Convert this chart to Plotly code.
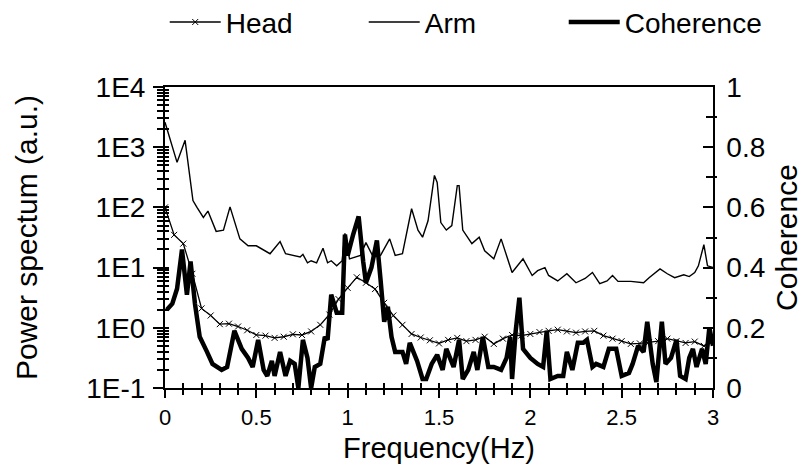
import plotly.graph_objects as go

# ---------------- data ----------------
head_freq = [i * 0.05 for i in range(61)]
head_power = [100, 35, 25, 7.9, 2.1, 1.6, 1.15, 1.17, 1.05, 0.91,
              0.76, 0.74, 0.68, 0.71, 0.78, 0.76, 0.87, 1.12, 1.66, 3.0,
              4.6, 6.9, 5.6, 4.4, 2.6, 1.6, 1.12, 0.79, 0.69, 0.62,
              0.55, 0.63, 0.68, 0.6, 0.63, 0.71, 0.54, 0.66, 0.76, 0.74,
              0.79, 0.85, 0.89, 0.93, 0.87, 0.83, 0.87, 0.89, 0.74, 0.66,
              0.6, 0.54, 0.55, 0.58, 0.6, 0.66, 0.6, 0.56, 0.59, 0.5, 0.6]

arm_freq = [0.0, 0.066, 0.11, 0.137, 0.153, 0.175, 0.21, 0.235, 0.28, 0.32,
            0.356, 0.41, 0.455, 0.5, 0.575, 0.63, 0.66, 0.74, 0.755, 0.78,
            0.8, 0.83, 0.865, 0.89, 0.91, 0.94, 0.97, 0.985, 1.01, 1.07,
            1.1, 1.14, 1.18, 1.23, 1.26, 1.30, 1.35, 1.385, 1.41, 1.44,
            1.475, 1.49, 1.51, 1.54, 1.57, 1.6, 1.61, 1.63, 1.68, 1.72,
            1.75, 1.8, 1.84, 1.9, 1.96, 2.01, 2.04, 2.08, 2.1, 2.15,
            2.2, 2.25, 2.3, 2.34, 2.38, 2.42, 2.45, 2.48, 2.55, 2.62,
            2.65, 2.71, 2.75, 2.79, 2.84, 2.87, 2.9, 2.92, 2.95, 2.97, 3.0]
arm_power = [2600, 560, 1300, 320, 130, 100, 68, 87, 40, 42,
             102, 30, 23, 23, 17, 27, 17, 15, 16.6, 12,
             13, 12, 21, 12, 13, 10.7, 13, 37, 14, 16,
             26, 15, 16, 30, 16, 17, 95, 42, 32, 60,
             340, 260, 56, 42, 50, 230, 230, 42, 25, 32,
             19, 14, 30, 8.3, 14, 7.4, 8.9, 10, 7.4, 6.0,
             7.9, 5.6, 6.6, 8.3, 5.4, 6.0, 7.4, 5.9, 5.9, 5.6,
             6.8, 9.5, 7.9, 6.8, 7.6, 7.1, 8.3, 10.7, 24, 10.7, 10]

coh_freq = [0.01, 0.04, 0.066, 0.093, 0.12, 0.14, 0.164, 0.19, 0.23, 0.26,
            0.31, 0.34, 0.38, 0.42, 0.455, 0.48, 0.51, 0.54, 0.56, 0.585,
            0.60, 0.63, 0.66, 0.685, 0.71, 0.73, 0.755, 0.78, 0.80, 0.82,
            0.85, 0.875, 0.89, 0.91, 0.94, 0.97, 0.985, 1.0, 1.03, 1.06,
            1.085, 1.10, 1.13, 1.16, 1.18, 1.20, 1.22, 1.24, 1.26, 1.30,
            1.32, 1.34, 1.38, 1.41, 1.43, 1.46, 1.49, 1.52, 1.54, 1.58,
            1.61, 1.63, 1.66, 1.69, 1.71, 1.74, 1.77, 1.80, 1.84, 1.87,
            1.89, 1.90, 1.92, 1.94, 1.96, 2.0, 2.04, 2.07, 2.09, 2.11,
            2.15, 2.18, 2.2, 2.23, 2.26, 2.29, 2.31, 2.34, 2.36, 2.4,
            2.43, 2.47, 2.5, 2.54, 2.56, 2.59, 2.62, 2.64, 2.67, 2.69,
            2.72, 2.74, 2.77, 2.8, 2.82, 2.85, 2.87, 2.89, 2.91, 2.94,
            2.96, 2.98, 3.0]
coh_value = [0.26, 0.28, 0.33, 0.46, 0.31, 0.42, 0.28, 0.17, 0.12, 0.08,
             0.06, 0.07, 0.19, 0.13, 0.10, 0.07, 0.16, 0.06, 0.04, 0.09,
             0.04, 0.12, 0.04, 0.09, 0.08, 0.0, 0.16, 0.10, 0.0, 0.07,
             0.08, 0.17, 0.16, 0.31, 0.25, 0.25, 0.51, 0.44, 0.51, 0.57,
             0.42, 0.35, 0.40, 0.49, 0.36, 0.22, 0.27, 0.17, 0.12, 0.12,
             0.08, 0.15, 0.09, 0.03, 0.03, 0.08, 0.11, 0.06, 0.13, 0.07,
             0.16, 0.03, 0.06, 0.12, 0.06, 0.17, 0.07, 0.07, 0.06, 0.10,
             0.17, 0.03, 0.19, 0.30, 0.13, 0.10, 0.08, 0.07, 0.19, 0.03,
             0.04, 0.04, 0.12, 0.06, 0.15, 0.15, 0.16, 0.07, 0.08, 0.07,
             0.13, 0.13, 0.04, 0.05, 0.08, 0.14, 0.12, 0.22, 0.08, 0.02,
             0.22, 0.08, 0.10, 0.16, 0.04, 0.03, 0.10, 0.13, 0.07, 0.13,
             0.08, 0.20, 0.14]

power_tickvals = [0.1, 1, 10, 100, 1000, 10000]
power_ticktext = ["1E-1", "1E0", "1E1", "1E2", "1E3", "1E4"]
power_minor = [k * 10.0 ** d for d in range(-1, 4) for k in range(2, 10)]
coh_minor_odd = [0.1, 0.3, 0.5, 0.7, 0.9]

FONT = "Liberation Sans, Arial, sans-serif"

fig = go.Figure()
fig.add_trace(go.Scatter(
    x=head_freq, y=head_power, name="Head", mode="lines+markers",
    line=dict(color="black", width=1.3),
    marker=dict(symbol="x-thin", size=6, line=dict(width=1, color="black"), color="black"),
    xaxis="x", yaxis="y", legendwidth=133))
fig.add_trace(go.Scatter(
    x=arm_freq, y=arm_power, name="Arm", mode="lines",
    line=dict(color="black", width=1.4), xaxis="x", yaxis="y", legendwidth=134))
fig.add_trace(go.Scatter(
    x=coh_freq, y=coh_value, name="Coherence", mode="lines",
    line=dict(color="black", width=4.5), xaxis="x", yaxis="y2"))
# carriers for the overlay tick axes
fig.add_trace(go.Scatter(x=[], y=[], xaxis="x2", yaxis="y3", showlegend=False, hoverinfo="skip"))
fig.add_trace(go.Scatter(x=[], y=[], xaxis="x", yaxis="y4", showlegend=False, hoverinfo="skip"))

tick_common = dict(tickcolor="black", tickwidth=1.5)

fig.update_layout(
    width=810, height=465,
    margin=dict(l=165, r=97, t=87, b=77, autoexpand=False),
    paper_bgcolor="white", plot_bgcolor="white",
    font=dict(family=FONT, color="black", size=28),
    xaxis=dict(
        range=[0, 3], dtick=0.5, tick0=0, showgrid=False, zeroline=False, automargin=False,
        showline=True, linecolor="black", linewidth=1.5, mirror=True,
        ticks="outside", ticklen=8, **tick_common,
        minor=dict(dtick=0.1, ticks="outside", ticklen=5, tickcolor="black", tickwidth=1.5),
        tickfont=dict(size=22), ticklabelstandoff=1,
        title=dict(text="Frequency(Hz)", font=dict(size=29), standoff=9),
    ),
    xaxis2=dict(
        range=[0, 3], overlaying="x", anchor="y", side="bottom", dtick=0.5, automargin=False,
        showgrid=False, zeroline=False, showline=False, showticklabels=False,
        ticks="inside", ticklen=5, **tick_common,
        minor=dict(dtick=0.1, ticks="inside", ticklen=5, tickcolor="black", tickwidth=1.5),
    ),
    yaxis=dict(
        type="log", range=[-1, 4], showgrid=False, zeroline=False, automargin=False,
        showline=True, linecolor="black", linewidth=2,
        tickmode="array", tickvals=power_tickvals, ticktext=power_ticktext,
        ticks="outside", ticklen=10, **tick_common,
        minor=dict(tickmode="array", tickvals=power_minor, ticks="outside",
                   ticklen=6, tickcolor="black", tickwidth=1.5),
        tickfont=dict(size=28), ticklabelstandoff=2,
        title=dict(text="Power spectum (a.u.)", font=dict(size=30), standoff=40),
    ),
    yaxis3=dict(
        type="log", range=[-1, 4], overlaying="y", anchor="x", side="left", automargin=False,
        showgrid=False, zeroline=False, showline=False, showticklabels=False,
        tickmode="array", tickvals=power_tickvals,
        ticks="inside", ticklen=4, **tick_common,
        minor=dict(tickmode="array", tickvals=power_minor, ticks="inside",
                   ticklen=4, tickcolor="black", tickwidth=1.5),
    ),
    yaxis2=dict(
        range=[0, 1], overlaying="y", anchor="x", side="right", automargin=False,
        dtick=0.2, tick0=0, showgrid=False, zeroline=False,
        showline=True, linecolor="black", linewidth=1.5,
        ticks="inside", ticklen=10, **tick_common,
        minor=dict(dtick=0.1, ticks="inside", ticklen=7, tickcolor="black", tickwidth=1.5),
        tickfont=dict(size=28), ticklabelstandoff=6,
        title=dict(text="Coherence", font=dict(size=30), standoff=12),
    ),
    yaxis4=dict(
        range=[0, 1], overlaying="y", anchor="x", side="right", automargin=False,
        showgrid=False, zeroline=False, showline=False, showticklabels=False,
        tickmode="array", tickvals=coh_minor_odd,
        ticks="outside", ticklen=3, **tick_common,
    ),
    legend=dict(
        orientation="h", x=-0.0005, xanchor="left", y=1.215, yanchor="middle",
        font=dict(size=28), itemwidth=51,
        bgcolor="rgba(0,0,0,0)", borderwidth=0, itemclick=False,
    ),
    showlegend=True,
)

fig.write_html("out.html")
